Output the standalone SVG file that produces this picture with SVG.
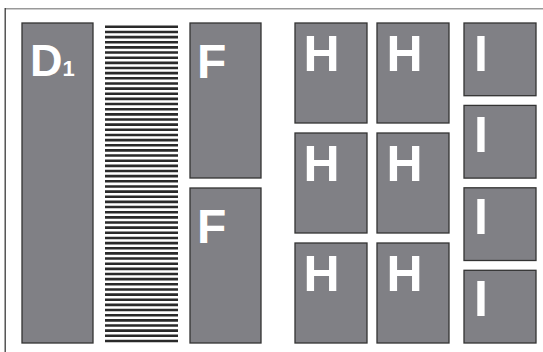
<svg xmlns="http://www.w3.org/2000/svg" width="543" height="352" viewBox="0 0 543 352">
<defs>
<style>
.blk{fill:#808085;stroke:#333;stroke-width:1.3}
.lbl{fill:#fff;font-family:"Liberation Sans",Arial,sans-serif;font-weight:bold}
.big{font-size:50px}
</style>
</defs>
<rect width="543" height="352" fill="#fff"/>
<g id="frame">
<line x1="5" y1="8.7" x2="543" y2="8.7" stroke="#999" stroke-width="1.6"/>
<line x1="5.2" y1="8" x2="5.2" y2="352" stroke="#3a3a3a" stroke-width="1.3"/>
</g>
<g id="D1">
<rect class="blk" x="22" y="23" width="71" height="320"/>
<text class="lbl" x="30" y="76" font-size="45">D<tspan font-size="22">1</tspan></text>
</g>
<g id="stripes-block">
<path fill="#2a2a2a" d="M105 25.5h73v2.6h-73zM105 30.65h73v2.6h-73zM105 35.8h73v2.6h-73zM105 40.95h73v2.6h-73zM105 46.1h73v2.6h-73zM105 51.25h73v2.6h-73zM105 56.4h73v2.6h-73zM105 61.55h73v2.6h-73zM105 66.7h73v2.6h-73zM105 71.85h73v2.6h-73zM105 77h73v2.6h-73zM105 82.15h73v2.6h-73zM105 87.3h73v2.6h-73zM105 92.45h73v2.6h-73zM105 97.6h73v2.6h-73zM105 102.75h73v2.6h-73zM105 107.9h73v2.6h-73zM105 113.05h73v2.6h-73zM105 118.2h73v2.6h-73zM105 123.35h73v2.6h-73zM105 128.5h73v2.6h-73zM105 133.65h73v2.6h-73zM105 138.8h73v2.6h-73zM105 143.95h73v2.6h-73zM105 149.1h73v2.6h-73zM105 154.25h73v2.6h-73zM105 159.4h73v2.6h-73zM105 164.55h73v2.6h-73zM105 169.7h73v2.6h-73zM105 174.85h73v2.6h-73zM105 180h73v2.6h-73zM105 185.15h73v2.6h-73zM105 190.3h73v2.6h-73zM105 195.45h73v2.6h-73zM105 200.6h73v2.6h-73zM105 205.75h73v2.6h-73zM105 210.9h73v2.6h-73zM105 216.05h73v2.6h-73zM105 221.2h73v2.6h-73zM105 226.35h73v2.6h-73zM105 231.5h73v2.6h-73zM105 236.65h73v2.6h-73zM105 241.8h73v2.6h-73zM105 246.95h73v2.6h-73zM105 252.1h73v2.6h-73zM105 257.25h73v2.6h-73zM105 262.4h73v2.6h-73zM105 267.55h73v2.6h-73zM105 272.7h73v2.6h-73zM105 277.85h73v2.6h-73zM105 283h73v2.6h-73zM105 288.15h73v2.6h-73zM105 293.3h73v2.6h-73zM105 298.45h73v2.6h-73zM105 303.6h73v2.6h-73zM105 308.75h73v2.6h-73zM105 313.9h73v2.6h-73zM105 319.05h73v2.6h-73zM105 324.2h73v2.6h-73zM105 329.35h73v2.6h-73zM105 334.5h73v2.6h-73zM105 339.65h73v2.6h-73z"/>
</g>
<g id="F1">
<rect class="blk" x="190" y="23" width="71" height="155"/>
<text class="lbl" x="197" y="78" font-size="48">F</text>
</g>
<g id="F2">
<rect class="blk" x="190" y="188" width="71" height="155"/>
<text class="lbl" x="197" y="243" font-size="48">F</text>
</g>
<g id="H1"><rect class="blk" x="295" y="23" width="72" height="100"/><text class="lbl big" x="303.5" y="70.7">H</text></g>
<g id="H2"><rect class="blk" x="377" y="23" width="72" height="100"/><text class="lbl big" x="386.5" y="70.7">H</text></g>
<g id="H3"><rect class="blk" x="295" y="133" width="72" height="100"/><text class="lbl big" x="303.5" y="180.7">H</text></g>
<g id="H4"><rect class="blk" x="377" y="133" width="72" height="100"/><text class="lbl big" x="386.5" y="180.7">H</text></g>
<g id="H5"><rect class="blk" x="295" y="243" width="72" height="100"/><text class="lbl big" x="303.5" y="290.7">H</text></g>
<g id="H6"><rect class="blk" x="377" y="243" width="72" height="100"/><text class="lbl big" x="386.5" y="290.7">H</text></g>
<g id="I1"><rect class="blk" x="464" y="23" width="72" height="72.7"/><text class="lbl big" x="474" y="70.7">I</text></g>
<g id="I2"><rect class="blk" x="464" y="105.4" width="72" height="72.7"/><text class="lbl big" x="474" y="152">I</text></g>
<g id="I3"><rect class="blk" x="464" y="187.8" width="72" height="72.7"/><text class="lbl big" x="474" y="234">I</text></g>
<g id="I4"><rect class="blk" x="464" y="270.3" width="72" height="72.7"/><text class="lbl big" x="474" y="316">I</text></g>
<g id="connectors"></g>
</svg>
